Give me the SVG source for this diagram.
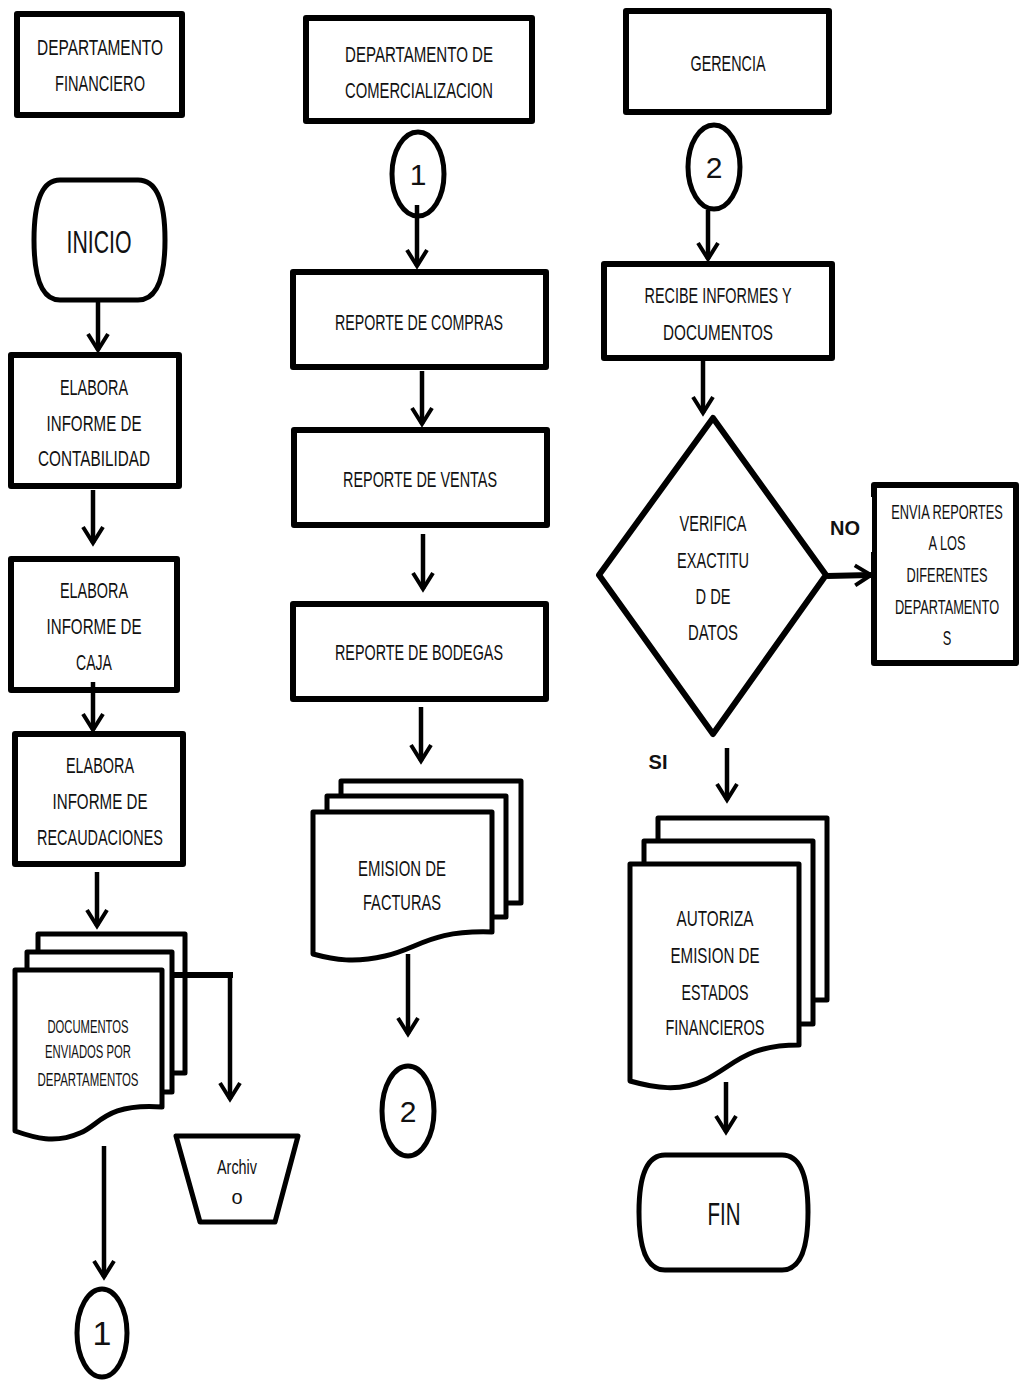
<svg xmlns="http://www.w3.org/2000/svg" width="1019" height="1381" viewBox="0 0 1019 1381">
  <style>
    .box { fill: #fff; stroke: #000; stroke-width: 6; stroke-linejoin: round; }
    .shape { fill: #fff; stroke: #000; stroke-width: 5; stroke-linejoin: round; }
    .t { font-family: "Liberation Sans", Arial, sans-serif; font-size: 22px; fill: #111; text-anchor: middle; }
    .s { font-size: 18px; }
    .big { font-size: 32px; }
    .num { font-size: 30px; }
    .b { font-weight: bold; font-size: 20px; }
    .cn { fill: none; stroke: #000; stroke-width: 4.5; }
  </style>
  <defs>
    <marker id="ah" markerUnits="userSpaceOnUse" viewBox="-20 -14 24 28" markerWidth="24" markerHeight="28" refX="0" refY="0" orient="auto">
      <path d="M -16 -10 L 0 0 L -16 10" fill="none" stroke="#000" stroke-width="4"/>
    </marker>
  </defs>
  <rect width="1019" height="1381" fill="#fff"/>

  <!-- Departamento financiero column -->
  <g id="dep-financiero">
    <rect class="box" x="17" y="14" width="165" height="101"/>
    <text class="t" x="100" y="55" textLength="126" lengthAdjust="spacingAndGlyphs">DEPARTAMENTO</text>
    <text class="t" x="100" y="91" textLength="90" lengthAdjust="spacingAndGlyphs">FINANCIERO</text>
  </g>
  <g id="inicio">
    <path class="shape" d="M 60 180 H 138 Q 165 180 165 240 Q 165 300 138 300 H 60 Q 34 300 34 240 Q 34 180 60 180 Z"/>
    <text class="t big" x="99" y="253" textLength="65" lengthAdjust="spacingAndGlyphs">INICIO</text>
  </g>
  <g id="informe-contabilidad">
    <rect class="box" x="11" y="355" width="168" height="131"/>
    <text class="t" x="94" y="395" textLength="68" lengthAdjust="spacingAndGlyphs">ELABORA</text>
    <text class="t" x="94" y="431" textLength="95" lengthAdjust="spacingAndGlyphs">INFORME DE</text>
    <text class="t" x="94" y="466" textLength="112" lengthAdjust="spacingAndGlyphs">CONTABILIDAD</text>
  </g>
  <g id="informe-caja">
    <rect class="box" x="11" y="559" width="166" height="131"/>
    <text class="t" x="94" y="598" textLength="68" lengthAdjust="spacingAndGlyphs">ELABORA</text>
    <text class="t" x="94" y="634" textLength="95" lengthAdjust="spacingAndGlyphs">INFORME DE</text>
    <text class="t" x="94" y="670" textLength="36" lengthAdjust="spacingAndGlyphs">CAJA</text>
  </g>
  <g id="informe-recaudaciones">
    <rect class="box" x="15" y="734" width="168" height="130"/>
    <text class="t" x="100" y="773" textLength="68" lengthAdjust="spacingAndGlyphs">ELABORA</text>
    <text class="t" x="100" y="809" textLength="95" lengthAdjust="spacingAndGlyphs">INFORME DE</text>
    <text class="t" x="100" y="845" textLength="126" lengthAdjust="spacingAndGlyphs">RECAUDACIONES</text>
  </g>
  <g id="documentos">
    <rect class="shape" x="38" y="934" width="147" height="139"/>
    <rect class="shape" x="27" y="952" width="145" height="140"/>
    <path class="shape" d="M 15 970 H 162 V 1107 C 105 1103 100 1125 80 1133 C 55 1144 35 1138 15 1131 Z"/>
    <text class="t s" x="88" y="1033" textLength="81" lengthAdjust="spacingAndGlyphs">DOCUMENTOS</text>
    <text class="t s" x="88" y="1058" textLength="86" lengthAdjust="spacingAndGlyphs">ENVIADOS POR</text>
    <text class="t s" x="88" y="1086" textLength="101" lengthAdjust="spacingAndGlyphs">DEPARTAMENTOS</text>
  </g>
  <g id="archivo">
    <path class="shape" d="M 176 1136 H 298 L 275 1222 H 200 Z"/>
    <text class="t" x="237" y="1174" style="font-size:20px" textLength="40" lengthAdjust="spacingAndGlyphs">Archiv</text>
    <text class="t" x="237" y="1204" style="font-size:20px">o</text>
  </g>
  <g id="conector-1-salida">
    <ellipse class="shape" cx="102" cy="1333" rx="25" ry="44"/>
    <text class="t" x="102" y="1345" style="font-size:34px">1</text>
  </g>

  <!-- Departamento de comercializacion column -->
  <g id="dep-comercializacion">
    <rect class="box" x="306" y="18" width="226" height="103"/>
    <text class="t" x="419" y="62" textLength="148" lengthAdjust="spacingAndGlyphs">DEPARTAMENTO DE</text>
    <text class="t" x="419" y="98" textLength="148" lengthAdjust="spacingAndGlyphs">COMERCIALIZACION</text>
  </g>
  <g id="conector-1-entrada">
    <ellipse class="shape" cx="418" cy="174" rx="26" ry="42"/>
    <text class="t num" x="418" y="185">1</text>
  </g>
  <g id="reporte-compras">
    <rect class="box" x="293" y="272" width="253" height="95"/>
    <text class="t" x="419" y="330" textLength="168" lengthAdjust="spacingAndGlyphs">REPORTE DE COMPRAS</text>
  </g>
  <g id="reporte-ventas">
    <rect class="box" x="294" y="430" width="253" height="95"/>
    <text class="t" x="420" y="487" textLength="154" lengthAdjust="spacingAndGlyphs">REPORTE DE VENTAS</text>
  </g>
  <g id="reporte-bodegas">
    <rect class="box" x="293" y="604" width="253" height="95"/>
    <text class="t" x="419" y="660" textLength="168" lengthAdjust="spacingAndGlyphs">REPORTE DE BODEGAS</text>
  </g>
  <g id="emision-facturas">
    <rect class="shape" x="341" y="781" width="180" height="122"/>
    <rect class="shape" x="327" y="796" width="179" height="121"/>
    <path class="shape" d="M 313 812 H 492 V 932 C 430 930 420 948 385 956 C 355 963 335 960 313 954 Z"/>
    <text class="t" x="402" y="876" textLength="88" lengthAdjust="spacingAndGlyphs">EMISION DE</text>
    <text class="t" x="402" y="910" textLength="78" lengthAdjust="spacingAndGlyphs">FACTURAS</text>
  </g>
  <g id="conector-2-salida">
    <ellipse class="shape" cx="408" cy="1111" rx="26" ry="45"/>
    <text class="t num" x="408" y="1122">2</text>
  </g>

  <!-- Gerencia column -->
  <g id="gerencia">
    <rect class="box" x="626" y="11" width="203" height="101"/>
    <text class="t" x="728" y="71" textLength="75" lengthAdjust="spacingAndGlyphs">GERENCIA</text>
  </g>
  <g id="conector-2-entrada">
    <ellipse class="shape" cx="714" cy="167" rx="26" ry="42"/>
    <text class="t num" x="714" y="178">2</text>
  </g>
  <g id="recibe-informes">
    <rect class="box" x="604" y="264" width="228" height="94"/>
    <text class="t" x="718" y="303" textLength="147" lengthAdjust="spacingAndGlyphs">RECIBE INFORMES Y</text>
    <text class="t" x="718" y="340" textLength="110" lengthAdjust="spacingAndGlyphs">DOCUMENTOS</text>
  </g>
  <g id="verifica-datos">
    <path class="shape" d="M 713 418 L 826 575 L 713 734 L 599 575 Z" style="stroke-width:6"/>
    <text class="t" x="713" y="531" textLength="67" lengthAdjust="spacingAndGlyphs">VERIFICA</text>
    <text class="t" x="713" y="568" textLength="72" lengthAdjust="spacingAndGlyphs">EXACTITU</text>
    <text class="t" x="713" y="604" textLength="35" lengthAdjust="spacingAndGlyphs">D DE</text>
    <text class="t" x="713" y="640" textLength="50" lengthAdjust="spacingAndGlyphs">DATOS</text>
  </g>
  <g id="envia-reportes">
    <rect class="box" x="874" y="485" width="142" height="178"/>
    <rect x="818" y="497" width="54" height="55" fill="#fff"/>
    <g transform="translate(947 0) scale(0.64 1)">
      <text class="t" x="0" y="519" style="font-size:20px">ENVIA REPORTES</text>
      <text class="t" x="0" y="550" style="font-size:20px">A LOS</text>
      <text class="t" x="0" y="582" style="font-size:20px">DIFERENTES</text>
      <text class="t" x="0" y="614" style="font-size:20px">DEPARTAMENTO</text>
      <text class="t" x="0" y="645" style="font-size:20px">S</text>
    </g>
  </g>
  <g id="autoriza-emision">
    <rect class="shape" x="658" y="818" width="169" height="182"/>
    <rect class="shape" x="644" y="841" width="169" height="183"/>
    <path class="shape" d="M 630 864 H 799 V 1045 C 745 1045 735 1065 705 1080 C 680 1092 655 1088 630 1081 Z"/>
    <text class="t" x="715" y="926" textLength="77" lengthAdjust="spacingAndGlyphs">AUTORIZA</text>
    <text class="t" x="715" y="963" textLength="89" lengthAdjust="spacingAndGlyphs">EMISION DE</text>
    <text class="t" x="715" y="1000" textLength="67" lengthAdjust="spacingAndGlyphs">ESTADOS</text>
    <text class="t" x="715" y="1035" textLength="99" lengthAdjust="spacingAndGlyphs">FINANCIEROS</text>
  </g>
  <g id="fin">
    <path class="shape" d="M 665 1155 H 782 Q 808 1155 808 1212 Q 808 1270 782 1270 H 665 Q 639 1270 639 1212 Q 639 1155 665 1155 Z"/>
    <text class="t big" x="724" y="1225" textLength="33" lengthAdjust="spacingAndGlyphs">FIN</text>
  </g>

  <!-- Flow connectors -->
  <g id="connectors">
    <line class="cn" x1="98" y1="302" x2="98" y2="350" marker-end="url(#ah)"/>
    <line class="cn" x1="93" y1="490" x2="93" y2="543" marker-end="url(#ah)"/>
    <line class="cn" x1="93" y1="682" x2="93" y2="730" marker-end="url(#ah)"/>
    <line class="cn" x1="97" y1="872" x2="97" y2="926" marker-end="url(#ah)"/>
    <path class="cn" d="M 170 975 H 233" style="stroke-width:6"/>
    <line class="cn" x1="230" y1="975" x2="230" y2="1099" marker-end="url(#ah)"/>
    <line class="cn" x1="104" y1="1146" x2="104" y2="1277" marker-end="url(#ah)"/>
    <line class="cn" x1="417" y1="205" x2="417" y2="266" marker-end="url(#ah)"/>
    <line class="cn" x1="422" y1="371" x2="422" y2="424" marker-end="url(#ah)"/>
    <line class="cn" x1="423" y1="534" x2="423" y2="589" marker-end="url(#ah)"/>
    <line class="cn" x1="421" y1="707" x2="421" y2="761" marker-end="url(#ah)"/>
    <line class="cn" x1="408" y1="954" x2="408" y2="1034" marker-end="url(#ah)"/>
    <line class="cn" x1="708" y1="210" x2="708" y2="259" marker-end="url(#ah)"/>
    <line class="cn" x1="703" y1="361" x2="703" y2="413" marker-end="url(#ah)"/>
    <line class="cn" x1="827" y1="576" x2="871" y2="575" style="stroke-width:6" marker-end="url(#ah)"/>
    <line class="cn" x1="727" y1="748" x2="727" y2="800" marker-end="url(#ah)"/>
    <line class="cn" x1="726" y1="1082" x2="726" y2="1132" marker-end="url(#ah)"/>
  </g>

  <!-- Branch labels -->
  <text class="t b" x="845" y="535">NO</text>
  <text class="t b" x="658" y="769">SI</text>
</svg>
